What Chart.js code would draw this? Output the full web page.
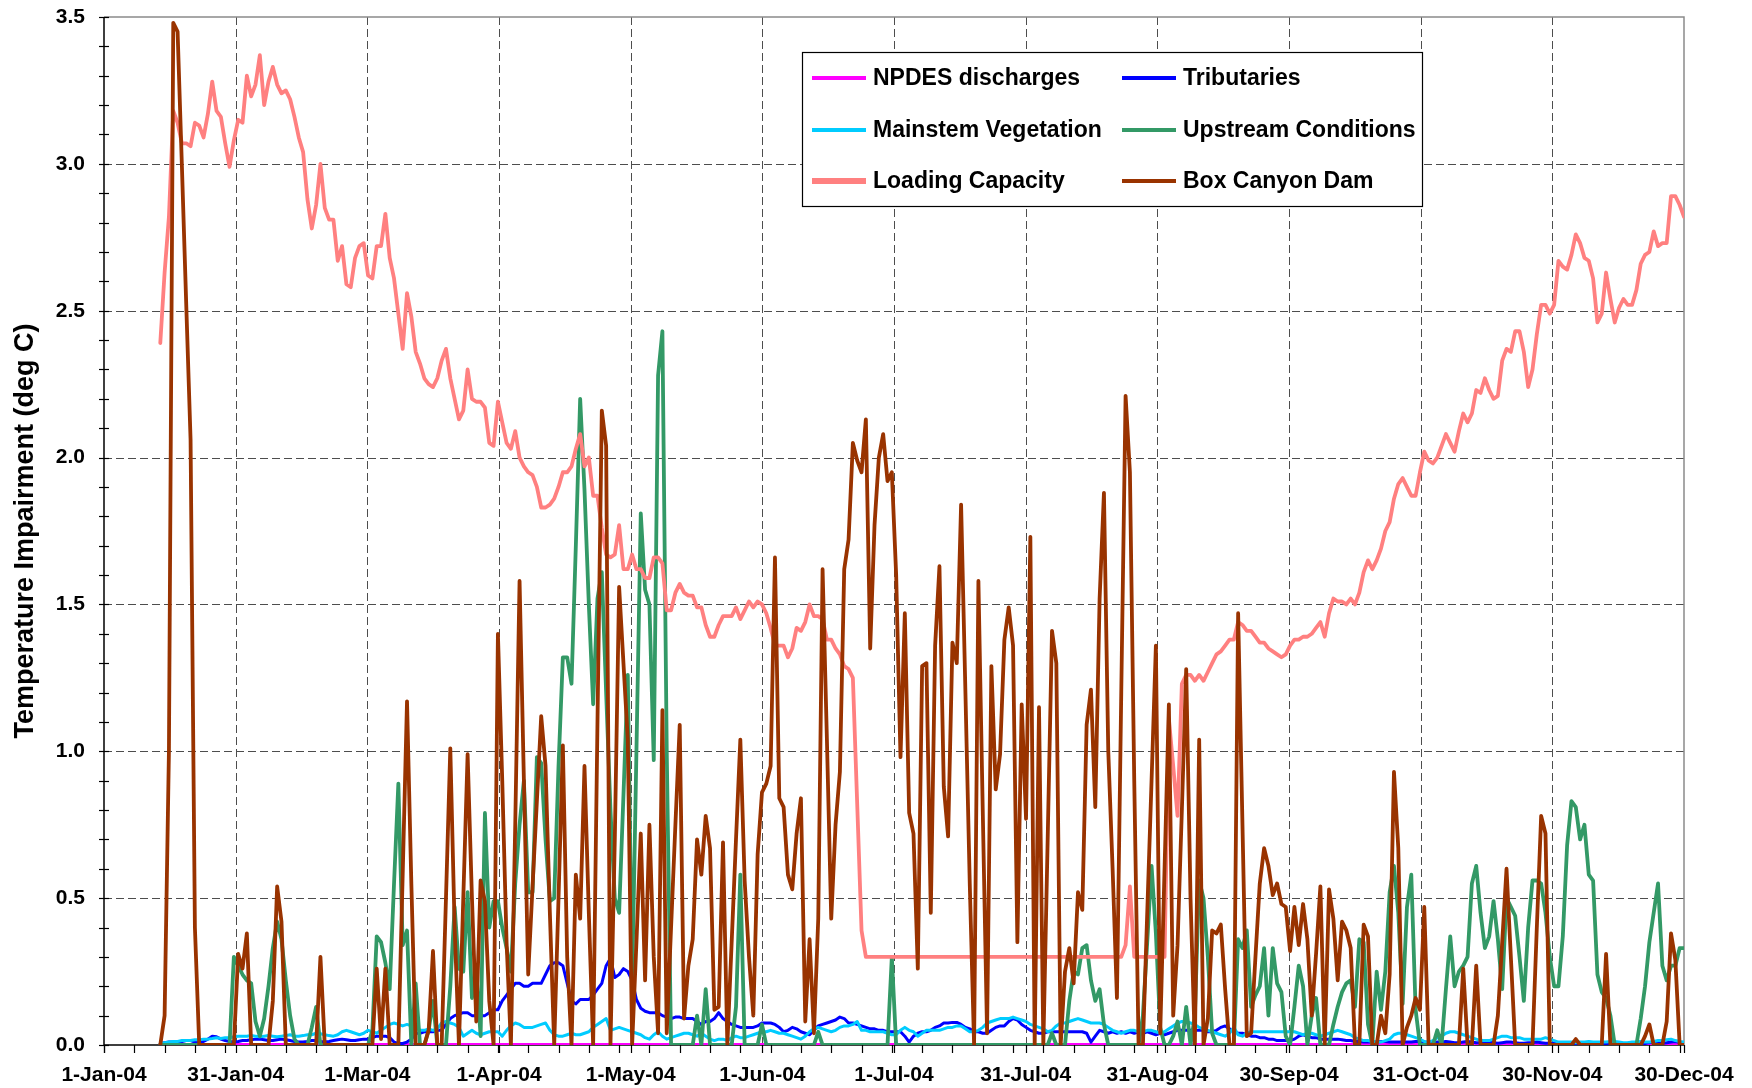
<!DOCTYPE html>
<html>
<head>
<meta charset="utf-8">
<title>Temperature Impairment 2004</title>
<script src="https://cdn.jsdelivr.net/npm/chart.js@4.4.1/dist/chart.umd.min.js"></script>
<style>
    body { margin: 0; background: #fff; }
    canvas { display: block; }
</style>
</head>
<body>
<canvas id="impairmentChart" width="1752" height="1088"></canvas>
<script>
// ====== DATA ======
// day 0 = 1-Jan-04; every series starts at firstDay, one row = 10 days
const firstDay = 10;

const xTickLabels = ["1-Jan-04", "31-Jan-04", "1-Mar-04", "1-Apr-04", "1-May-04", "1-Jun-04",
    "1-Jul-04", "31-Jul-04", "31-Aug-04", "30-Sep-04", "31-Oct-04", "30-Nov-04", "30-Dec-04"];

const npdesDays = [13, 100, 200, 300, 365];
const npdes = [0.002, 0.002, 0.002, 0.002, 0.002];

const tributaries = [
    null, null, null, 0.005, 0.008, 0.01, 0.01, 0.01, 0.012, 0.015,
    0.015, 0.01, 0.01, 0.012, 0.02, 0.03, 0.028, 0.02, 0.015, 0.012,
    0.01, 0.012, 0.015, 0.015, 0.018, 0.02, 0.02, 0.018, 0.015, 0.015,
    0.018, 0.02, 0.018, 0.015, 0.012, 0.01, 0.01, 0.012, 0.015, 0.015,
    0.012, 0.01, 0.012, 0.015, 0.018, 0.02, 0.018, 0.015, 0.015, 0.018,
    0.02, 0.02, 0.025, 0.03, 0.03, 0.03, 0.025, 0.01, 0.005, 0.005,
    0.01, 0.02, 0.04, 0.04, 0.045, 0.045, 0.045, 0.05, 0.05, 0.07,
    0.09, 0.1, 0.105, 0.11, 0.11, 0.1, 0.1, 0.1, 0.1, 0.11,
    0.12, 0.12, 0.15, 0.17, 0.19, 0.21, 0.21, 0.2, 0.2, 0.21,
    0.21, 0.21, 0.24, 0.27, 0.28, 0.28, 0.27, 0.21, 0.15, 0.14,
    0.155, 0.155, 0.155, 0.17, 0.19, 0.21, 0.27, 0.295, 0.23, 0.24,
    0.26, 0.25, 0.22, 0.155, 0.125, 0.115, 0.11, 0.11, 0.11, 0.1,
    0.095, 0.09, 0.095, 0.095, 0.09, 0.09, 0.09, 0.08, 0.07, 0.08,
    0.08, 0.09, 0.11, 0.09, 0.08, 0.07, 0.065, 0.06, 0.06, 0.06,
    0.06, 0.065, 0.075, 0.075, 0.075, 0.07, 0.06, 0.045, 0.05, 0.06,
    0.055, 0.045, 0.04, 0.035, 0.05, 0.065, 0.07, 0.075, 0.08, 0.085,
    0.095, 0.09, 0.075, 0.075, 0.07, 0.065, 0.06, 0.055, 0.055, 0.05,
    0.05, 0.045, 0.045, 0.045, 0.045, 0.03, 0.01, 0.03, 0.04, 0.045,
    0.045, 0.05, 0.06, 0.065, 0.075, 0.075, 0.077, 0.077, 0.07, 0.06,
    0.055, 0.045, 0.045, 0.04, 0.04, 0.05, 0.06, 0.065, 0.065, 0.08,
    0.09, 0.085, 0.07, 0.06, 0.05, 0.045, 0.04, 0.04, 0.045, 0.045,
    0.045, 0.045, 0.045, 0.045, 0.045, 0.045, 0.045, 0.04, 0.01, 0.03,
    0.05, 0.045, 0.04, 0.045, 0.04, 0.045, 0.04, 0.045, 0.04, 0.045,
    0.04, 0.045, 0.04, 0.035, 0.04, 0.035, 0.04, 0.045, 0.05, 0.05,
    0.05, 0.05, 0.05, 0.05, 0.05, 0.045, 0.045, 0.05, 0.06, 0.065,
    0.055, 0.045, 0.04, 0.04, 0.035, 0.03, 0.03, 0.025, 0.025, 0.02,
    0.02, 0.015, 0.015, 0.015, 0.015, 0.02, 0.03, 0.035, 0.03, 0.025,
    0.025, 0.02, 0.02, 0.02, 0.02, 0.02, 0.018, 0.015, 0.015, 0.012,
    0.012, 0.01, 0.01, 0.01, 0.01, 0.012, 0.012, 0.01, 0.01, 0.01,
    0.01, 0.01, 0.01, 0.012, 0.012, 0.01, 0.008, 0.008, 0.01, 0.01,
    0.012, 0.01, 0.008, 0.008, 0.01, 0.012, 0.01, 0.008, 0.008, 0.01,
    0.01, 0.008, 0.006, 0.008, 0.01, 0.01, 0.008, 0.006, 0.006, 0.008,
    0.008, 0.01, 0.008, 0.006, 0.006, 0.005, 0.005, 0.006, 0.005, 0.005,
    0.005, 0.006, 0.005, 0.005, 0.004, 0.005, 0.005, 0.006, 0.005, 0.005,
    0.005, 0.005, 0.006, 0.008, 0.008, 0.006, 0.005, 0.008, 0.01, 0.008,
    0.006, 0.008, 0.01, 0.012, 0.008, 0.006
];

const mainstemVegetation = [
    null, null, null, 0.005, 0.008, 0.01, 0.012, 0.012, 0.015, 0.015,
    0.015, 0.018, 0.018, 0.02, 0.02, 0.022, 0.025, 0.022, 0.025, 0.025,
    0.028, 0.03, 0.03, 0.03, 0.032, 0.03, 0.028, 0.03, 0.032, 0.03,
    0.028, 0.03, 0.032, 0.035, 0.03, 0.03, 0.032, 0.035, 0.035, 0.04,
    0.038, 0.035, 0.032, 0.03, 0.035, 0.045, 0.05, 0.045, 0.04, 0.035,
    0.04, 0.05, 0.045, 0.04, 0.05, 0.06, 0.07, 0.075, 0.07, 0.065,
    0.07, 0.065, 0.06, 0.05, 0.05, 0.055, 0.05, 0.055, 0.075, 0.08,
    0.075, 0.07, 0.06, 0.03, 0.04, 0.05, 0.04, 0.035, 0.04, 0.045,
    0.045, 0.045, 0.03, 0.05, 0.065, 0.075, 0.07, 0.06, 0.06, 0.06,
    0.065, 0.07, 0.075, 0.05, 0.035, 0.03, 0.03, 0.035, 0.04, 0.035,
    0.035, 0.04, 0.045, 0.06, 0.07, 0.08, 0.09, 0.05, 0.055, 0.06,
    0.055, 0.05, 0.045, 0.04, 0.035, 0.025, 0.02, 0.035, 0.045, 0.03,
    0.02, 0.025, 0.03, 0.035, 0.04, 0.04, 0.035, 0.03, 0.04, 0.03,
    0.02, 0.015, 0.02, 0.02, 0.015, 0.025, 0.03, 0.025, 0.025, 0.03,
    0.035, 0.04, 0.045, 0.045, 0.05, 0.045, 0.04, 0.04, 0.035, 0.03,
    0.025, 0.02, 0.03, 0.045, 0.055, 0.06, 0.055, 0.05, 0.045, 0.05,
    0.06, 0.065, 0.065, 0.07, 0.08, 0.05, 0.05, 0.045, 0.045, 0.045,
    0.045, 0.04, 0.035, 0.035, 0.05, 0.06, 0.05, 0.045, 0.03, 0.04,
    0.05, 0.05, 0.05, 0.05, 0.055, 0.06, 0.06, 0.065, 0.065, 0.055,
    0.045, 0.045, 0.05, 0.06, 0.075, 0.08, 0.085, 0.09, 0.09, 0.09,
    0.095, 0.09, 0.085, 0.08, 0.07, 0.065, 0.06, 0.055, 0.045, 0.05,
    0.065, 0.075, 0.075, 0.08, 0.085, 0.09, 0.085, 0.08, 0.075, 0.075,
    0.075, 0.07, 0.06, 0.05, 0.045, 0.04, 0.045, 0.05, 0.05, 0.045,
    0.045, 0.05, 0.05, 0.045, 0.04, 0.045, 0.055, 0.065, 0.075, 0.08,
    0.08, 0.075, 0.07, 0.06, 0.055, 0.05, 0.045, 0.04, 0.035, 0.03,
    0.04, 0.06, 0.035, 0.03, 0.04, 0.045, 0.045, 0.045, 0.045, 0.045,
    0.045, 0.045, 0.045, 0.045, 0.045, 0.045, 0.04, 0.035, 0.04, 0.04,
    0.035, 0.03, 0.035, 0.04, 0.045, 0.05, 0.045, 0.04, 0.035, 0.025,
    0.02, 0.015, 0.015, 0.012, 0.01, 0.01, 0.015, 0.02, 0.035, 0.04,
    0.04, 0.035, 0.03, 0.025, 0.02, 0.012, 0.01, 0.015, 0.025, 0.03,
    0.04, 0.045, 0.045, 0.04, 0.035, 0.03, 0.025, 0.02, 0.015, 0.015,
    0.015, 0.02, 0.025, 0.03, 0.03, 0.025, 0.025, 0.025, 0.02, 0.02,
    0.02, 0.02, 0.02, 0.025, 0.02, 0.015, 0.01, 0.01, 0.01, 0.01,
    0.008, 0.01, 0.01, 0.012, 0.01, 0.01, 0.01, 0.01, 0.012, 0.012,
    0.01, 0.008, 0.008, 0.01, 0.01, 0.012, 0.01, 0.01, 0.012, 0.015,
    0.015, 0.018, 0.02, 0.015, 0.012, 0.01
];

const upstreamConditions = [
    null, null, null, 0, 0, 0, 0, 0, 0, 0,
    0, 0, 0, 0, 0, 0, 0, 0, 0, 0,
    0.30, 0.27, 0.24, 0.22, 0.21, 0.08, 0.03, 0.09, 0.2, 0.33,
    0.42, 0.36, 0.22, 0.1, 0.02, 0, 0, 0, 0.06, 0.13,
    0, 0, 0, 0, 0, 0, 0, 0, 0, 0,
    0, 0, 0.05, 0.37, 0.35, 0.28, 0.19, 0.55, 0.89, 0.34,
    0.39, 0, 0.21, 0, 0, 0.05, 0.15, 0, 0, 0,
    0.2, 0.47, 0.26, 0.25, 0.52, 0.16, 0.25, 0.03, 0.79, 0.40,
    0.49, 0.49, 0.40, 0.33, 0.25, 0.55, 0.75, 0.90, 0.52, 0.52,
    0.98, 0.96, 0.70, 0.49, 0.50, 0.95, 1.32, 1.32, 1.23, 1.70,
    2.20, 1.89, 1.50, 1.16, 1.52, 1.61, 1.20, 0.80, 0.50, 0.45,
    0.85, 1.26, 0.2, 1.0, 1.81, 1.55, 1.50, 0.97, 2.28, 2.43,
    1.0, 0, 0, 0, 0, 0, 0, 0.1, 0, 0.19,
    0, 0, 0, 0, 0, 0, 0.13, 0.58, 0, 0,
    0, 0, 0.07, 0, 0, 0, 0, 0, 0, 0,
    0, 0, 0, 0, 0, 0.045, 0, 0, 0, 0,
    0, 0, 0, 0, 0, 0, 0, 0, 0, 0,
    0, 0, 0.30, 0, 0, 0, 0, 0, 0, 0,
    0, 0, 0, 0, 0, 0, 0, 0, 0, 0,
    0, 0, 0, 0, 0, 0, 0, 0, 0, 0,
    0, 0, 0, 0, 0, 0, 0, 0, 0, 0.04,
    0, 0, 0, 0.15, 0.25, 0.24, 0.33, 0.34, 0.22, 0.15,
    0.19, 0.07, 0, 0, 0, 0, 0, 0, 0, 0,
    0.1, 0.35, 0.61, 0.38, 0.06, 0, 0, 0.03, 0.08, 0,
    0.13, 0, 0.1, 0.56, 0.5, 0.3, 0.04, 0, 0, 0,
    0, 0, 0.36, 0.33, 0.39, 0.13, 0.17, 0.2, 0.33, 0.10,
    0.33, 0.21, 0.18, 0.03, 0, 0.13, 0.27, 0.2, 0, 0.1,
    0.16, 0, 0, 0, 0.07, 0.13, 0.18, 0.21, 0.22, 0.13,
    0.36, 0.35, 0.07, 0, 0.25, 0.12, 0.25, 0.52, 0.61, 0.45,
    0.14, 0.47, 0.58, 0.12, 0, 0, 0, 0, 0.05, 0,
    0.19, 0.37, 0.2, 0.25, 0.27, 0.30, 0.55, 0.61, 0.45, 0.33,
    0.37, 0.49, 0.36, 0.19, 0.5, 0.47, 0.44, 0.3, 0.15, 0.4,
    0.56, 0.56, 0.55, 0.45, 0.3, 0.2, 0.2, 0.37, 0.68, 0.83,
    0.81, 0.70, 0.75, 0.58, 0.56, 0.24, 0.18, 0.16, 0.10, 0,
    0, 0, 0, 0, 0, 0.09, 0.2, 0.35, 0.45, 0.55,
    0.27, 0.22, 0.27, 0.27, 0.33, 0.33
];

const loadingCapacity = [
    null, null, null, 2.39, 2.63, 2.82, 3.18, 3.14, 3.07, 3.07,
    3.06, 3.14, 3.13, 3.09, 3.17, 3.28, 3.18, 3.16, 3.07, 2.99,
    3.08, 3.15, 3.14, 3.30, 3.23, 3.27, 3.37, 3.20, 3.28, 3.33,
    3.27, 3.24, 3.25, 3.22, 3.16, 3.09, 3.04, 2.88, 2.78, 2.86,
    3.00, 2.85, 2.81, 2.81, 2.67, 2.72, 2.59, 2.58, 2.68, 2.72,
    2.73, 2.62, 2.61, 2.72, 2.72, 2.83, 2.68, 2.61, 2.49, 2.37,
    2.56, 2.48, 2.36, 2.32, 2.27, 2.25, 2.24, 2.27, 2.33, 2.37,
    2.27, 2.20, 2.13, 2.16, 2.30, 2.20, 2.19, 2.19, 2.17, 2.05,
    2.04, 2.19, 2.12, 2.05, 2.03, 2.09, 2.00, 1.97, 1.95, 1.94,
    1.90, 1.83, 1.83, 1.84, 1.86, 1.90, 1.95, 1.95, 1.97, 2.03,
    2.08, 1.97, 2.00, 1.87, 1.87, 1.76, 1.67, 1.66, 1.67, 1.77,
    1.62, 1.62, 1.67, 1.62, 1.62, 1.59, 1.59, 1.66, 1.66, 1.64,
    1.48, 1.48, 1.54, 1.57, 1.54, 1.53, 1.53, 1.49, 1.49, 1.43,
    1.39, 1.39, 1.43, 1.46, 1.46, 1.46, 1.49, 1.45, 1.48, 1.51,
    1.49, 1.51, 1.50, 1.47, 1.42, 1.36, 1.36, 1.36, 1.32, 1.35,
    1.42, 1.41, 1.44, 1.50, 1.46, 1.46, 1.45, 1.38, 1.38, 1.35,
    1.33, 1.29, 1.28, 1.25, 0.82, 0.39, 0.30, 0.30, 0.30, 0.30,
    0.30, 0.30, 0.30, 0.30, 0.30, 0.30, 0.30, 0.30, 0.30, 0.30,
    0.30, 0.30, 0.30, 0.30, 0.30, 0.30, 0.30, 0.30, 0.30, 0.30,
    0.30, 0.30, 0.30, 0.30, 0.30, 0.30, 0.30, 0.30, 0.30, 0.30,
    0.30, 0.30, 0.30, 0.30, 0.30, 0.30, 0.30, 0.30, 0.30, 0.30,
    0.30, 0.30, 0.30, 0.30, 0.30, 0.30, 0.30, 0.30, 0.30, 0.30,
    0.30, 0.30, 0.30, 0.30, 0.30, 0.30, 0.34, 0.54, 0.30, 0.30,
    0.30, 0.30, 0.30, 0.30, 0.30, 0.30, 1.11, 0.95, 0.78, 1.23,
    1.26, 1.26, 1.24, 1.26, 1.24, 1.27, 1.30, 1.33, 1.34, 1.36,
    1.38, 1.38, 1.44, 1.43, 1.41, 1.41, 1.39, 1.37, 1.37, 1.35,
    1.34, 1.33, 1.32, 1.33, 1.36, 1.38, 1.38, 1.39, 1.39, 1.40,
    1.42, 1.44, 1.39, 1.47, 1.52, 1.51, 1.51, 1.50, 1.52, 1.50,
    1.54, 1.61, 1.65, 1.62, 1.65, 1.69, 1.75, 1.78, 1.86, 1.91,
    1.93, 1.90, 1.87, 1.87, 1.95, 2.02, 1.99, 1.98, 2.00, 2.04,
    2.08, 2.05, 2.02, 2.09, 2.15, 2.12, 2.15, 2.23, 2.22, 2.27,
    2.23, 2.20, 2.21, 2.33, 2.37, 2.36, 2.43, 2.43, 2.36, 2.24,
    2.30, 2.42, 2.52, 2.52, 2.49, 2.52, 2.67, 2.65, 2.64, 2.69,
    2.76, 2.73, 2.68, 2.67, 2.61, 2.46, 2.49, 2.63, 2.54, 2.46,
    2.51, 2.54, 2.52, 2.52, 2.57, 2.66, 2.69, 2.70, 2.77, 2.72,
    2.73, 2.73, 2.89, 2.89, 2.86, 2.82
];

const boxCanyonDam = [
    null, null, null, 0, 0.1, 1.0, 3.48, 3.45, 2.99, 2.52,
    2.06, 0.4, 0, 0, 0, 0, 0, 0, 0, 0,
    0, 0.31, 0.26, 0.38, 0, 0, 0, 0, 0, 0.15,
    0.54, 0.42, 0, 0, 0, 0, 0, 0, 0, 0,
    0.30, 0, 0, 0, 0, 0, 0, 0, 0, 0,
    0, 0, 0, 0.26, 0.02, 0.26, 0, 0, 0, 0.58,
    1.17, 0.55, 0, 0, 0, 0.05, 0.32, 0, 0, 0.5,
    1.01, 0.4, 0, 0.5, 0.99, 0.5, 0.08, 0.56, 0.49, 0.15,
    0, 1.40, 0.9, 0.35, 0, 0.75, 1.58, 0.9, 0.24, 0.54,
    0.83, 1.12, 0.95, 0.45, 0, 0.5, 1.02, 0.3, 0, 0.58,
    0.43, 0.95, 0.45, 0, 1.1, 2.16, 2.04, 0, 0.7, 1.56,
    1.3, 1.04, 0, 0.35, 0.72, 0.22, 0.75, 0.3, 0.04, 1.14,
    0.04, 0.4, 0.75, 1.09, 0.09, 0.27, 0.36, 0.70, 0.58, 0.78,
    0.67, 0.12, 0.13, 0.69, 0, 0.35, 0.7, 1.04, 0.56, 0.3,
    0.1, 0.65, 0.86, 0.89, 0.95, 1.66, 0.84, 0.81, 0.58, 0.53,
    0.72, 0.84, 0.08, 0.36, 0.04, 0.43, 1.62, 1.04, 0.43, 0.75,
    0.93, 1.62, 1.72, 2.05, 1.99, 1.95, 2.13, 1.35, 1.77, 2.0,
    2.08, 1.92, 1.95, 1.60, 0.98, 1.47, 0.79, 0.72, 0.26, 1.29,
    1.30, 0.45, 1.36, 1.63, 0.88, 0.71, 1.37, 1.30, 1.84, 1.2,
    0.55, 0, 1.58, 0.8, 0.04, 1.29, 0.87, 0.99, 1.38, 1.49,
    1.36, 0.35, 1.16, 0.77, 1.73, 0, 1.15, 0, 0.7, 1.41,
    1.30, 0, 0.25, 0.33, 0.21, 0.52, 0.46, 1.09, 1.21, 0.81,
    1.52, 1.88, 1.0, 0.6, 0.16, 1.2, 2.21, 1.95, 0.9, 0,
    0, 0.45, 0.9, 1.36, 0.04, 0.6, 1.16, 0.1, 0.34, 0.8,
    1.28, 0.5, 0, 1.04, 0, 0.09, 0.39, 0.38, 0.41, 0.19,
    0, 0, 1.47, 0.75, 0.03, 0.04, 0.3, 0.55, 0.67, 0.61,
    0.51, 0.55, 0.48, 0.47, 0.32, 0.47, 0.34, 0.48, 0.36, 0.10,
    0.31, 0.54, 0, 0.53, 0.43, 0.22, 0.42, 0.39, 0.33, 0,
    0, 0.41, 0.37, 0, 0, 0.10, 0.04, 0.24, 0.93, 0.67,
    0, 0.06, 0.1, 0.16, 0.12, 0.47, 0, 0, 0, 0,
    0, 0, 0, 0, 0.26, 0, 0, 0.27, 0, 0,
    0, 0, 0.1, 0.35, 0.60, 0.3, 0, 0, 0, 0,
    0, 0.4, 0.78, 0.72, 0, 0, 0, 0, 0, 0,
    0.02, 0, 0, 0, 0, 0, 0, 0.31, 0, 0,
    0, 0, 0, 0, 0, 0, 0.03, 0.07, 0, 0,
    0, 0.08, 0.38, 0.29, 0, 0
];

// ====== HELPERS ======
const FONT = "'Liberation Sans', Arial, sans-serif";
const daily = vals => vals.map((v, i) => ({ x: firstDay + i, y: v }));

// dashed grid, axes, tick marks and the boxed legend, in Excel style
const excelFrame = {
    id: "excelFrame",
    beforeDatasetsDraw(chart) {
        const { ctx, chartArea: a, scales: { x, y } } = chart;
        ctx.save();

        ctx.strokeStyle = "#4d4d4d";
        ctx.lineWidth = 1;
        ctx.setLineDash([8, 4]);
        x.ticks.forEach(t => {
            if (t.value <= x.min || t.value >= x.max) return;
            const px = Math.round(x.getPixelForValue(t.value)) + 0.5;
            ctx.beginPath(); ctx.moveTo(px, a.top); ctx.lineTo(px, a.bottom); ctx.stroke();
        });
        y.ticks.forEach(t => {
            if (t.value <= y.min || t.value >= y.max) return;
            const py = Math.round(y.getPixelForValue(t.value)) + 0.5;
            ctx.beginPath(); ctx.moveTo(a.left, py); ctx.lineTo(a.right, py); ctx.stroke();
        });
        ctx.setLineDash([]);

        // gray frame on top and right
        ctx.strokeStyle = "#8a8a8a";
        ctx.lineWidth = 1.5;
        ctx.beginPath();
        ctx.moveTo(a.left, a.top); ctx.lineTo(a.right, a.top); ctx.lineTo(a.right, a.bottom);
        ctx.stroke();

        // black axes
        ctx.strokeStyle = "#000";
        ctx.lineWidth = 1.5;
        ctx.beginPath();
        ctx.moveTo(a.left, a.top); ctx.lineTo(a.left, a.bottom); ctx.lineTo(a.right, a.bottom);
        ctx.stroke();

        // tick marks: weekly minor + major on x, 0.1 on y
        ctx.lineWidth = 1.2;
        const xMarks = x.ticks.map(t => t.value);
        for (let d = 0; d <= x.max; d += 7) xMarks.push(d);
        xMarks.forEach(v => {
            const px = Math.round(x.getPixelForValue(v)) + 0.5;
            ctx.beginPath(); ctx.moveTo(px, a.bottom); ctx.lineTo(px, a.bottom + 8); ctx.stroke();
        });
        for (let i = 0; i <= 35; i++) {
            const py = Math.round(y.getPixelForValue(i / 10)) + 0.5;
            ctx.beginPath(); ctx.moveTo(a.left - 5, py); ctx.lineTo(a.left + 5, py); ctx.stroke();
        }
        ctx.restore();
    },
    afterDatasetsDraw(chart) {
        const { ctx } = chart;
        const box = { left: 802, top: 52, width: 620, height: 154 };
        const rowY = [26, 78, 129];
        const colX = [10, 320];
        ctx.save();
        ctx.fillStyle = "#fff";
        ctx.fillRect(box.left, box.top, box.width, box.height);
        ctx.strokeStyle = "#000";
        ctx.lineWidth = 1.2;
        ctx.strokeRect(box.left + 0.5, box.top + 0.5, box.width, box.height);

        ctx.font = "bold 23px " + FONT;
        ctx.textBaseline = "middle";
        ctx.textAlign = "left";
        chart.data.datasets.forEach((ds, i) => {
            const lx = box.left + colX[i % 2];
            const ly = box.top + rowY[Math.floor(i / 2)];
            ctx.strokeStyle = ds.borderColor;
            ctx.lineWidth = ds.legendLineWidth || 4;
            ctx.beginPath(); ctx.moveTo(lx, ly); ctx.lineTo(lx + 54, ly); ctx.stroke();
            ctx.fillStyle = "#000";
            ctx.fillText(ds.label, lx + 61, ly + 1);
        });
        ctx.restore();
    }
};

// ====== CHART ======
document.addEventListener("DOMContentLoaded", () => {
    new Chart(document.getElementById("impairmentChart"), {
        type: "line",
        data: {
            datasets: [
                {
                    label: "NPDES discharges",
                    data: npdesDays.map((d, i) => ({ x: d, y: npdes[i] })),
                    borderColor: "#ff00ff", borderWidth: 3, order: 6
                },
                {
                    label: "Tributaries",
                    data: daily(tributaries),
                    borderColor: "#0000ff", borderWidth: 3, order: 5
                },
                {
                    label: "Mainstem Vegetation",
                    data: daily(mainstemVegetation),
                    borderColor: "#00ccff", borderWidth: 3, order: 4
                },
                {
                    label: "Upstream Conditions",
                    data: daily(upstreamConditions),
                    borderColor: "#339966", borderWidth: 3.8, order: 3
                },
                {
                    label: "Loading Capacity",
                    data: daily(loadingCapacity),
                    borderColor: "#ff8080", borderWidth: 3.8, order: 2, legendLineWidth: 6
                },
                {
                    label: "Box Canyon Dam",
                    data: daily(boxCanyonDam),
                    borderColor: "#993300", borderWidth: 3.8, order: 1
                }
            ]
        },
        options: {
            responsive: false,
            animation: false,
            layout: { padding: { top: 17, right: 68, left: 0, bottom: 0 } },
            elements: { point: { radius: 0 }, line: { tension: 0, borderJoinStyle: "round", borderCapStyle: "round" } },
            plugins: { legend: { display: false }, tooltip: { enabled: false } },
            scales: {
                x: {
                    type: "linear",
                    min: 0,
                    max: 365,
                    grid: { display: false, drawTicks: false },
                    border: { display: false },
                    afterBuildTicks: axis => {
                        axis.ticks = xTickLabels.map((_, k) => ({ value: k * 365 / 12 }));
                    },
                    afterFit: axis => { axis.height = 43; },
                    ticks: {
                        autoSkip: false,
                        maxRotation: 0,
                        padding: 18,
                        color: "#000",
                        font: { family: FONT, size: 21, weight: "bold" },
                        callback: (v, i) => xTickLabels[i]
                    }
                },
                y: {
                    min: 0,
                    max: 3.5,
                    grid: { display: false, drawTicks: false },
                    border: { display: false },
                    afterFit: axis => {
                        axis.width = 104;
                        axis.paddingTop = 0;
                        axis.paddingBottom = 0;
                    },
                    ticks: {
                        stepSize: 0.5,
                        padding: 19,
                        color: "#000",
                        font: { family: FONT, size: 21, weight: "bold" },
                        callback: v => v.toFixed(1)
                    },
                    title: {
                        display: true,
                        text: "Temperature Impairment (deg C)",
                        color: "#000",
                        font: { family: FONT, size: 27, weight: "bold" },
                        padding: { top: 9, bottom: 0 }
                    }
                }
            }
        },
        plugins: [excelFrame]
    });
});
</script>
</body>
</html>
